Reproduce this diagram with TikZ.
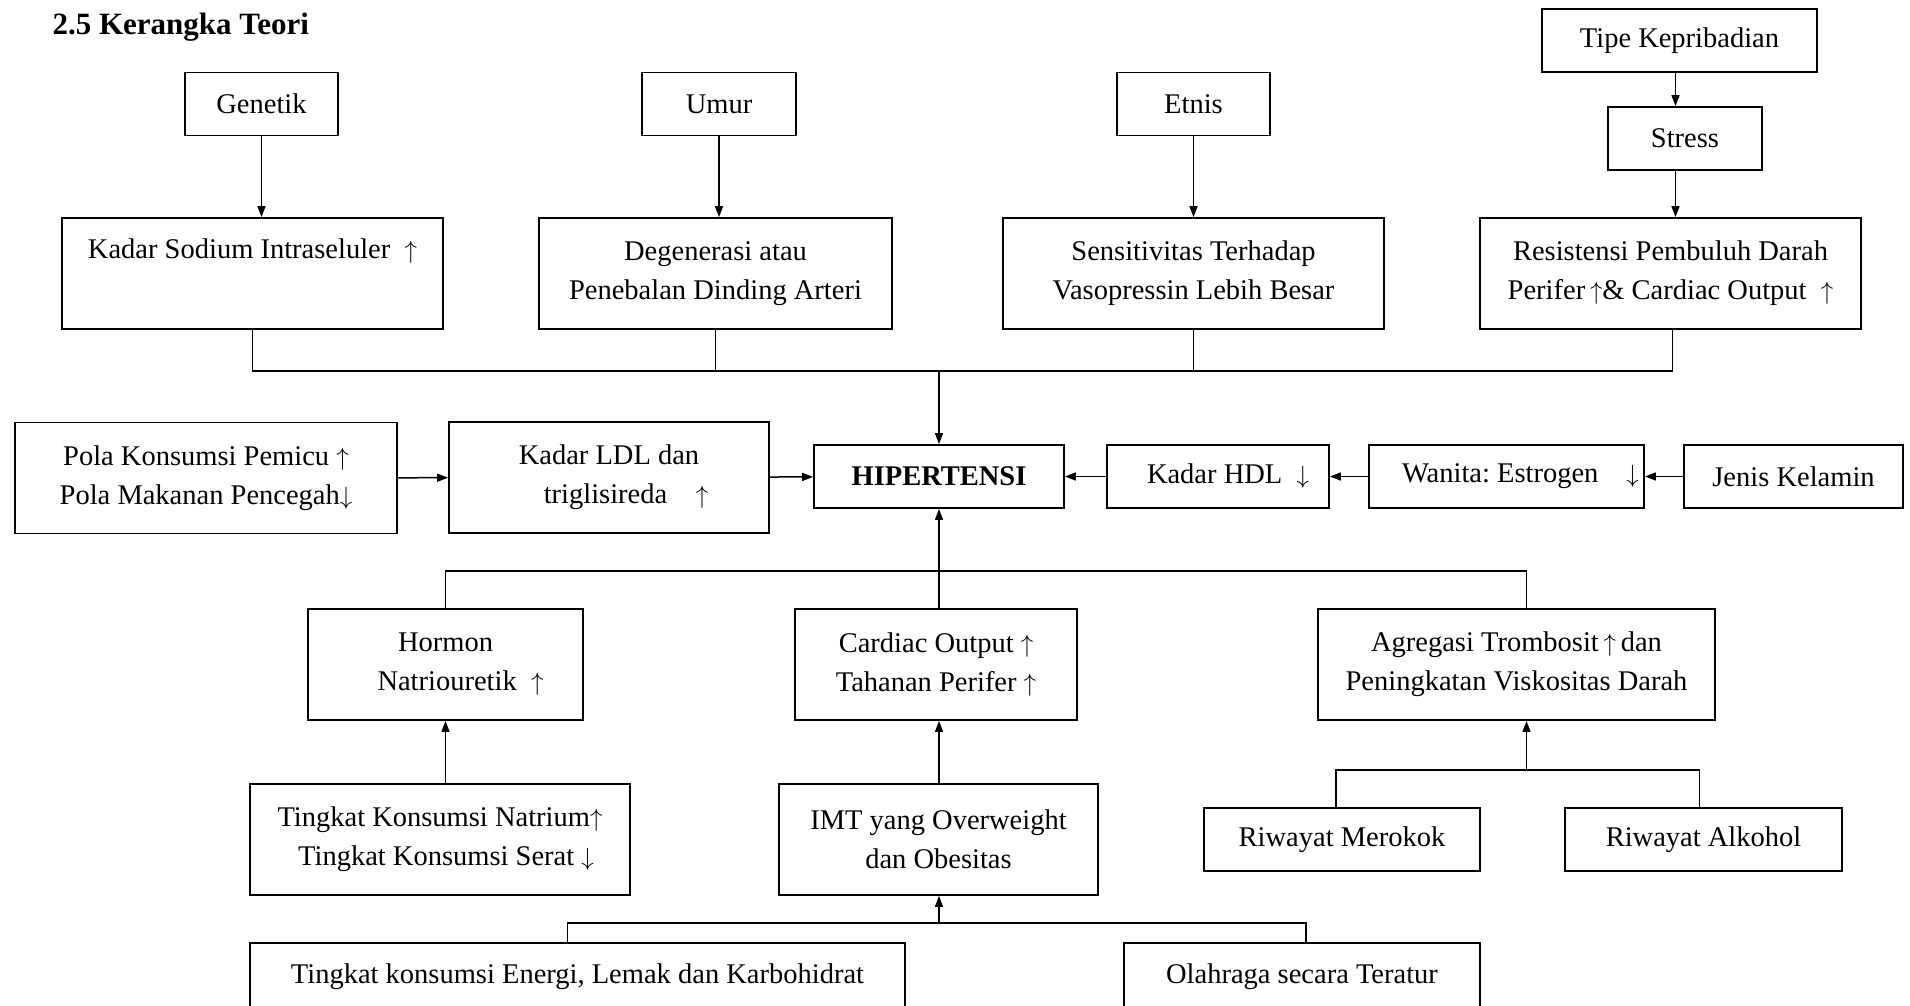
\documentclass[tikz,border=0pt]{standalone}
\usepackage{fontspec}
\setmainfont{Liberation Serif}
\usetikzlibrary{arrows.meta}
\frenchspacing

\newcommand{\naik}{$\uparrow$}
\newcommand{\turun}{$\downarrow$}

\begin{document}
\begin{tikzpicture}[x=1pt, y=-1pt, >={Triangle[length=11pt,width=8pt]},
    kotak/.style={draw, line width=1.8pt, inner sep=0pt, align=center,
        font=\fontsize{28.5}{39}\selectfont},
    kecil/.style={kotak, minimum height=63pt},
    besar/.style={kotak, minimum height=111pt},
    garis/.style={line width=1.5pt},
    panah/.style={->, line width=1.5pt}]

\useasboundingbox (0,0) rectangle (1910,1005);

\clip (0,0) rectangle (1910,1005);

% Judul

\node[anchor=base west, font=\fontsize{31}{36}\selectfont\bfseries] (judul) at (49,34) {2.5 Kerangka Teori};

% Faktor atas

\node[kecil, minimum width=153pt] (genetik) at (261.5,104) {Genetik};

\node[kecil, minimum width=154pt] (umur) at (719,104) {Umur};

\node[kecil, minimum width=153pt] (etnis) at (1193.5,104) {Etnis};

\node[kecil, minimum width=275pt] (tipe) at (1679.5,40.5) {Tipe Kepribadian};

\node[kecil, minimum width=154pt] (stress) at (1685,138.5) {Stress};

\node[besar, minimum width=381pt] (sodium) at (252.5,273.5) {Kadar Sodium Intraseluler\enspace\naik\\ \strut};

\node[besar, minimum width=353pt] (degen) at (715.5,273.5) {Degenerasi atau\\Penebalan Dinding Arteri};

\node[besar, minimum width=381pt] (sens) at (1193.5,273.5) {Sensitivitas Terhadap\\Vasopressin Lebih Besar};

\node[besar, minimum width=381pt] (resist) at (1670.5,273.5) {Resistensi Pembuluh Darah\\Perifer\,\naik\& Cardiac Output\enspace\naik};

% Baris tengah

\node[besar, minimum width=382pt] (pola) at (206,478) {Pola Konsumsi Pemicu \naik\\Pola Makanan Pencegah\turun};

\node[besar, minimum width=320pt] (ldl) at (609,477.5) {Kadar LDL dan\\\hspace*{34pt}triglisireda\quad\naik};

\node[kecil, minimum width=250pt] (hip) at (939,476.5) {\bfseries HIPERTENSI};

\node[kecil, minimum width=222pt] (hdl) at (1218,476.5) {\hspace*{20pt}Kadar HDL\enspace\turun};

\node[kecil, minimum width=275pt] (wanita) at (1506.5,476.5) {\hspace*{28pt}Wanita: Estrogen\hspace{28pt}\turun};

\node[kecil, minimum width=219pt] (jenis) at (1793.5,476.5) {Jenis Kelamin};

% Faktor bawah

\node[besar, minimum width=275pt] (hormon) at (445.5,664.5) {Hormon\\\hspace*{30pt}Natriouretik\enspace\naik};

\node[besar, minimum width=282pt] (cardiac) at (936,664.5) {Cardiac Output \naik\\Tahanan Perifer \naik};

\node[besar, minimum width=397pt] (agreg) at (1516.5,664.5) {Agregasi Trombosit\,\naik\,dan\\Peningkatan Viskositas Darah};

\node[besar, minimum width=380pt] (natrium) at (440,839.5) {Tingkat Konsumsi Natrium\naik\\\hspace*{12pt}Tingkat Konsumsi Serat \turun};

\node[besar, minimum width=319pt] (imt) at (938.5,839.5) {IMT yang Overweight\\dan Obesitas};

\node[kecil, minimum width=276pt] (merokok) at (1342,839.5) {Riwayat Merokok};

\node[kecil, minimum width=277pt] (alkohol) at (1703.5,839.5) {Riwayat Alkohol};

\node[besar, minimum width=655pt] (energi) at (577.5,998.5) {Tingkat konsumsi Energi, Lemak dan Karbohidrat\\ \strut};

\node[besar, minimum width=356pt] (olahraga) at (1302,998.5) {Olahraga secara Teratur\\ \strut};

% Panah atas

\draw[panah] (genetik.south) -- (genetik.south |- sodium.north);

\draw[panah] (umur.south) -- (umur.south |- degen.north);

\draw[panah] (etnis.south) -- (etnis.south |- sens.north);

\draw[panah] ([xshift=-4pt]tipe.south) -- ([xshift=-4pt]tipe.south |- stress.north);

\draw[panah] ([xshift=-4pt]tipe.south |- stress.south) -- ([xshift=-4pt]tipe.south |- resist.north);

\coordinate (busatas) at (hip.north |- 0,371);

\draw[garis] (sodium.south) |- ([xshift=2pt]resist.south |- busatas) -- ([xshift=2pt]resist.south);

\draw[garis] (degen.south) -- (degen.south |- busatas);

\draw[garis] (sens.south) -- (sens.south |- busatas);

\draw[panah] (busatas) -- (hip.north);

% Panah tengah

\draw[panah] (pola) -- (ldl);

\draw[panah] (ldl) -- (hip);

\draw[panah] (jenis) -- (wanita);

\draw[panah] (wanita) -- (hdl);

\draw[panah] (hdl) -- (hip);

% Panah bawah

\coordinate (bustengah) at (hip.south |- 0,571);

\draw[garis] (hormon.north) |- ([xshift=10pt]agreg.north |- bustengah) -- ([xshift=10pt]agreg.north);

\draw[panah] (cardiac.north -| hip.south) -- (hip.south);

\draw[panah] (natrium.north -| hormon.north) -- (hormon.south);

\draw[panah] (imt.north -| hip.south) -- (cardiac.south -| hip.south);

\coordinate (busriwayat) at ([xshift=10pt]agreg.south |- 0,770);

\draw[garis] ([xshift=-6pt]merokok.north) |- ([xshift=-4pt]alkohol.north |- busriwayat) -- ([xshift=-4pt]alkohol.north);

\draw[panah] (busriwayat) -- ([xshift=10pt]agreg.south);

\coordinate (busbawah) at (hip.south |- 0,923);

\draw[garis] ([xshift=-10pt]energi.north) |- ([xshift=4pt]olahraga.north |- busbawah) -- ([xshift=4pt]olahraga.north);

\draw[panah] (busbawah) -- (busbawah |- imt.south);

\end{tikzpicture}
\end{document}
